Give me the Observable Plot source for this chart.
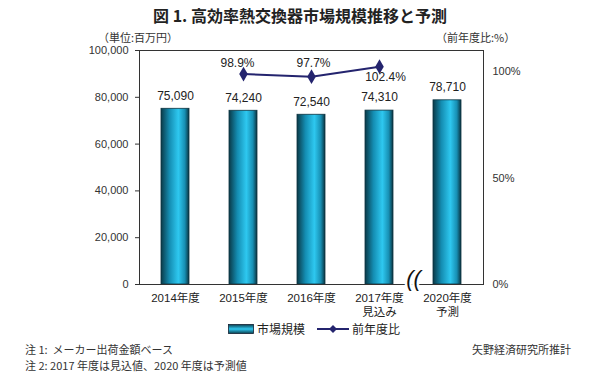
<!DOCTYPE html>
<html><head><meta charset="utf-8">
<script src="https://cdn.jsdelivr.net/npm/d3@7"></script>
<script src="https://cdn.jsdelivr.net/npm/@observablehq/plot@0.6"></script>
<style>
body{margin:0;background:#fff;}
#wrap{position:relative;width:600px;height:374px;font-family:"Liberation Sans","Noto Sans CJK JP",sans-serif;color:#222;overflow:hidden;}
.abs{position:absolute;white-space:nowrap;}
#title{left:0;width:600px;top:3px;text-align:center;font-size:16px;font-weight:bold;font-family:"Noto Sans CJK JP",sans-serif;}
.sub{font-size:11px;top:29px;color:#333;font-family:"Noto Sans CJK JP",sans-serif;}
#chart{position:absolute;left:0;top:26px;}
#legend{top:320px;left:228px;font-size:12px;display:flex;align-items:center;font-family:"Noto Sans CJK JP",sans-serif;}
.note{font-size:11px;color:#333;font-family:"Noto Sans CJK JP",sans-serif;}
</style></head>
<body><div id="wrap">
<div id="title" class="abs">図 1.&nbsp;高効率熱交換器市場規模推移と予測</div>
<div class="abs sub" style="left:98px">（単位:百万円）</div>
<div class="abs sub" style="left:436px">（前年度比:%）</div>
<div id="chart"></div>
<div id="legend" class="abs">
  <svg width="26" height="10" style="margin-right:3px"><defs><linearGradient id="lg1" x1="0" x2="0" y1="0" y2="1"><stop offset="0" stop-color="#0b3f4f"/><stop offset="0.5" stop-color="#2ec8f0"/><stop offset="1" stop-color="#0b3f4f"/></linearGradient></defs><rect x="0.5" y="0.5" width="25" height="9" fill="url(#lg1)" stroke="#123" stroke-width="0.8"/></svg>
  <span>市場規模</span>
  <svg width="32" height="10" style="margin-left:12px;margin-right:3px"><line x1="0" x2="32" y1="5" y2="5" stroke="#24246e" stroke-width="2"/><path d="M16,1 L20,5 L16,9 L12,5 Z" fill="#24246e"/></svg>
  <span>前年度比</span>
</div>
<div class="abs note" style="left:25px;top:341px">注 1:&nbsp; メーカー出荷金額ベース</div>
<div class="abs note" style="left:25px;top:357px">注 2: 2017 年度は見込値、2020 年度は予測値</div>
<div class="abs note" style="right:29px;top:341px">矢野経済研究所推計</div>
</div>
<script>
const categories = ["2014","2015","2016","2017","2020"];
const tickLabels = ["2014年度","2015年度","2016年度","2017年度\n見込み","2020年度\n予測"];
const marketSize = [75090,74240,72540,74310,78710];
const ratioYears = ["2015","2016","2017"];
const ratioValues = [98.9,97.7,102.4];
const ratioLabels = ["98.9%","97.7%","102.4%"];
const leftTicks = [0,20000,40000,60000,80000,100000];
const rightTicks = [0,50,100];
const LEFT_MAX = 100000, RIGHT_MAX = 110;
const toLeft = p => p / RIGHT_MAX * LEFT_MAX;

const bars = categories.map((c,i)=>({cat:c, value:marketSize[i]}));
const ratio = ratioYears.map((c,i)=>({cat:c, v:ratioValues[i], label:ratioLabels[i]}));
const labelOf = new Map(categories.map((c,i)=>[c,tickLabels[i]]));
const fmt = d3.format(",");
const navy = "#24246e";

const ratioText = (i, dx, dy) => Plot.text(ratio, {filter:(d,j)=>j===i, x:"cat", y:d=>toLeft(d.v), text:"label", dx, dy, fontSize:12, fill:"#222"});

const plot = Plot.plot({
  width:600, height:296,
  marginLeft:139, marginRight:117, marginTop:24, marginBottom:38,
  style:{fontFamily:'"Liberation Sans","Noto Sans CJK JP",sans-serif', fontSize:"11px", color:"#333", background:"transparent"},
  x:{domain:categories, paddingInner:0.59, paddingOuter:0.295, align:0.5},
  y:{domain:[0,LEFT_MAX]},
  marks:[
    Plot.barY(bars, {x:"cat", y:"value", fill:"url(#barGrad)", stroke:"#0d3340", strokeWidth:0.8}),
    Plot.text(bars, {x:"cat", y:"value", text:d=>fmt(d.value), dy:-13, fontSize:12, fill:"#222"}),
    Plot.line(ratio, {x:"cat", y:d=>toLeft(d.v), stroke:navy, strokeWidth:2}),
    Plot.dot(ratio, {x:"cat", y:d=>toLeft(d.v), symbol:"diamond", r:4.5, fill:navy}),
    ratioText(0,-6,-11),
    ratioText(1,2,-14),
    ratioText(2,6,10),
    Plot.frame({stroke:"#333", strokeWidth:1}),
    Plot.axisY({anchor:"left", ticks:leftTicks, tickFormat:fmt, tickSize:4, tickPadding:7, label:null, fontSize:11}),
    Plot.axisY(rightTicks.map(toLeft), {anchor:"right", tickFormat:(d,i)=>rightTicks[i]+"%", tickSize:0, tickPadding:9, label:null, fontSize:11}),
    Plot.axisX({tickFormat:d=>labelOf.get(d), tickSize:0, tickPadding:8, label:null, fontSize:11.5, lineHeight:1.2, fill:"#222"}),
    Plot.text([categories[3]], {x:d=>d, frameAnchor:"bottom", dx:34, dy:1, text:()=>"((", fontSize:22, fontStyle:"italic", fill:"#111", stroke:"white", strokeWidth:5, paintOrder:"stroke"})
  ]
});
const ns = "http://www.w3.org/2000/svg";
const defs = document.createElementNS(ns,"defs");
defs.innerHTML = '<linearGradient id="barGrad" x1="0" x2="1" y1="0" y2="0">'+
 '<stop offset="0" stop-color="#0a3a48"/><stop offset="0.3" stop-color="#148db2"/>'+
 '<stop offset="0.62" stop-color="#2ec8f0"/><stop offset="0.85" stop-color="#178fb3"/>'+
 '<stop offset="1" stop-color="#0a3440"/></linearGradient>';
plot.insertBefore(defs, plot.firstChild);
document.getElementById("chart").appendChild(plot);
</script>
</body></html>
